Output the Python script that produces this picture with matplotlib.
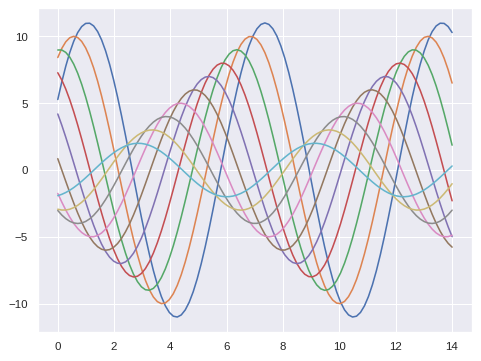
import numpy as np
import matplotlib
matplotlib.use("Agg")
import matplotlib.pyplot as plt
import seaborn as sns

# sine curves: amplitude and phase shift for each line
amplitudes = [11, 10, 9, 8, 7, 6, 5, 4, 3, 2]
phases = [0.5, 1.0, 1.5, 2.0, 2.5, 3.0, 3.5, 4.0, 4.5, 5.0]
x = np.linspace(0, 14, 100)

sns.set_theme()
plt.rcParams['font.family'] = ['Liberation Sans', 'DejaVu Sans']

fig = plt.figure(figsize=(6.4, 4.8), dpi=75.3)
fig.subplots_adjust(left=0.079, right=0.979, top=0.976, bottom=0.081)
ax = fig.add_subplot(111)
for amp, ph in zip(amplitudes, phases):
    ax.plot(x, np.sin(x + ph) * amp)

fig.savefig("out.png", dpi=75.3)
